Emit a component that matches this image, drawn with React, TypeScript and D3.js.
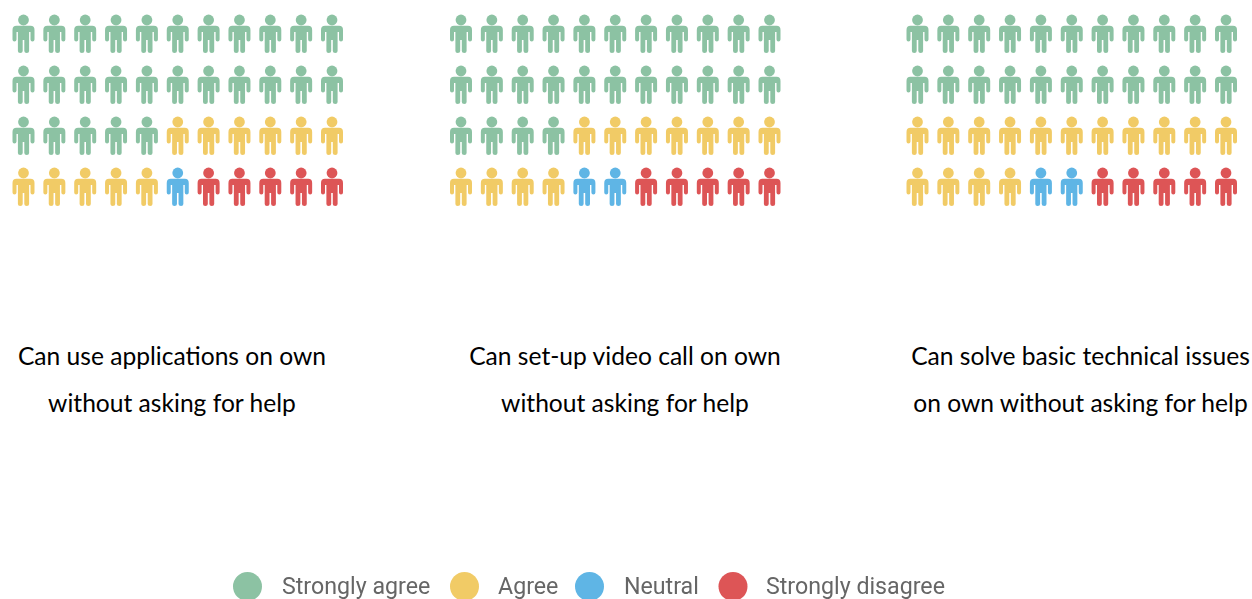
import React from "react";
import * as d3 from "d3";

const categories = ["Strongly agree", "Agree", "Neutral", "Strongly disagree"];
const colors = ["#8cc2a3", "#f1cb66", "#5eb5e5", "#dd5457"];
const chart1 = [27, 11, 1, 5];
const chart2 = [26, 11, 2, 5];
const chart3 = [22, 15, 2, 5];
const charts = [chart1, chart2, chart3];
const chartLeft = [23.5, 461, 917.5];
const captions = [
  ["Can use applications on own", "without asking for help"],
  ["Can set-up video call on own", "without asking for help"],
  ["Can solve basic technical issues", "on own without asking for help"],
];
const captionX = [172, 625, 1080.5];
const legendCircles = [247.5, 464.5, 589.5, 733];
const legendLabels = [282, 498, 624, 766];

const PER_ROW = 11;
const ROWS = 4;

const personPath =
  "M-7,10.8 H7 Q11,10.8 11,15 V24.5 Q11,26.6 9,26.6 Q7,26.6 7,24.5 V17 H5.6 V36 Q5.6,38 3.3,38 Q0.8,38 0.8,36 V25 H-0.8 V36 Q-0.8,38 -3.3,38 Q-5.6,38 -5.6,36 V17 H-7 V24.5 Q-7,26.6 -9,26.6 Q-11,26.6 -11,24.5 V15 Q-11,10.8 -7,10.8 Z";

const col = d3.scaleLinear().domain([0, PER_ROW - 1]).range([0, 308.5]);
const row = d3.scaleLinear().domain([0, ROWS - 1]).range([15, 168]);

function expand(counts: number[]) {
  return counts.flatMap((n, i) => d3.range(n).map(() => i));
}

export default function App() {
  return (
    <svg
      width={1252}
      height={599}
      style={{ position: "absolute", left: 0, top: 0, background: "#fff" }}
    >
      <defs>
        <filter id="soft" filterUnits="userSpaceOnUse" x="0" y="0" width="1252" height="599">
          <feGaussianBlur stdDeviation="0.6" />
        </filter>
      </defs>
      <g filter="url(#soft)">
        {charts.map((counts, c) =>
          expand(counts).map((cat, i) => (
            <g
              key={`${c}-${i}`}
              transform={`translate(${chartLeft[c] + col(i % PER_ROW)},${row(Math.floor(i / PER_ROW))})`}
              fill={colors[cat]}
            >
              <circle cx={0} cy={5} r={5.4} />
              <path d={personPath} />
            </g>
          ))
        )}
      </g>
      {captions.map((lines, c) =>
        lines.map((t, l) => (
          <text
            key={t + c}
            x={captionX[c]}
            y={365 + l * 47}
            textAnchor="middle"
            fontFamily="Lato, Carlito, sans-serif"
            fontSize={24.6}
            fill="#000"
          >
            {t}
          </text>
        ))
      )}
      <g filter="url(#soft)">
        {categories.map((t, i) => (
          <g key={t}>
            <circle cx={legendCircles[i]} cy={586.5} r={14.5} fill={colors[i]} />
            <text
              x={legendLabels[i]}
              y={593.5}
              fontFamily="Roboto, sans-serif"
              fontSize={23.2}
              fill="#666"
            >
              {t}
            </text>
          </g>
        ))}
      </g>
    </svg>
  );
}
